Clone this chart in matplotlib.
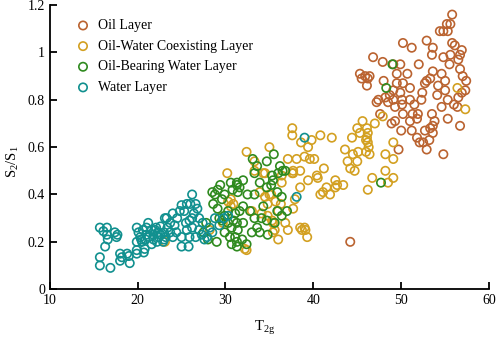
import matplotlib
matplotlib.use("Agg")
import matplotlib.pyplot as plt
from matplotlib.ticker import FuncFormatter

plt.rcParams["font.family"] = ["Liberation Serif", "DejaVu Serif"]
plt.rcParams["mathtext.default"] = "regular"

# ---- data ----
oil_x = [55.8, 55.2, 55.6, 54.8, 54.4, 55.3, 50.2, 51.2, 52.9, 53.6, 53.5, 54.8, 55.6, 55.8,
         56.1, 56.9, 56.7, 56.5, 56.7, 46.8, 47.9, 49.1, 49.9, 49.5, 50.7, 53.6, 54.6, 55.0,
         52.9, 52.7, 53.3, 57.4, 49.5, 50.2, 46.4, 45.3, 45.9, 45.5, 46.2, 46.1, 49.1, 49.9,
         48.7, 52.4, 54.1, 55.0, 57.3, 55.3, 56.5, 56.9, 47.4, 48.2, 49.1, 50.1, 51.0, 54.6,
         56.4, 47.2, 48.5, 49.3, 50.1, 49.3, 50.2, 51.0, 51.3, 51.9, 51.8, 53.5, 53.8, 53.6,
         53.3, 50.0, 51.2, 52.7, 53.6, 56.7, 51.8, 52.1, 52.5, 52.9, 49.7, 54.8, 44.2, 47.6,
         48.9, 51.5, 52.3, 55.5, 57.0, 54.2, 51.0, 52.0, 48.0, 53.2, 55.3, 56.0]
oil_y = [1.16, 1.12, 1.12, 1.09, 1.09, 1.09, 1.04, 1.02, 1.05, 1.02, 0.99, 0.98, 0.99, 1.04,
         1.03, 1.01, 0.99, 0.97, 0.93, 0.98, 0.96, 0.95, 0.95, 0.91, 0.91, 0.92, 0.91, 0.88,
         0.88, 0.87, 0.89, 0.88, 0.87, 0.87, 0.90, 0.91, 0.90, 0.89, 0.89, 0.86, 0.84, 0.83,
         0.82, 0.83, 0.82, 0.84, 0.84, 0.80, 0.81, 0.83, 0.80, 0.81, 0.80, 0.80, 0.80, 0.77,
         0.77, 0.79, 0.79, 0.77, 0.78, 0.71, 0.74, 0.71, 0.74, 0.74, 0.72, 0.74, 0.71, 0.69,
         0.68, 0.67, 0.67, 0.67, 0.66, 0.69, 0.64, 0.62, 0.62, 0.59, 0.59, 0.57, 0.20, 0.74,
         0.70, 0.78, 0.80, 0.95, 0.90, 0.86, 0.85, 0.95, 0.88, 0.63, 0.72, 0.78]

coex_x = [37.6, 37.6, 38.6, 39.8, 40.8, 42.1, 44.4, 45.0, 45.6, 45.3, 46.1, 46.2, 46.1, 46.2,
          46.3, 46.0, 46.4, 46.0, 47.0, 47.9, 43.6, 44.5, 45.1, 43.9, 45.0, 44.2, 44.7, 39.4,
          39.6, 40.1, 39.0, 37.1, 38.1, 37.7, 38.5, 40.4, 41.2, 40.5, 39.4, 42.5, 42.7, 43.4,
          42.5, 41.5, 41.1, 41.9, 40.8, 38.5, 37.9, 37.7, 48.2, 48.5, 49.1, 46.2, 46.7, 48.2,
          49.1, 49.1, 56.4, 57.3, 34.3, 36.4, 37.7, 36.8, 37.1, 35.6, 36.0, 38.7, 39.1, 39.3,
          35.4, 34.5, 33.3, 33.3, 32.4, 35.0, 30.2, 37.6, 30.3, 30.6, 30.9, 30.6, 33.9, 34.5,
          35.2, 35.7, 36.3, 36.4, 34.1, 34.8, 35.4, 32.2, 29.7, 23.1, 28.2, 32.4, 35.0, 34.8,
          35.3, 33.0, 36.0, 38.5, 39.0]
coex_y = [0.68, 0.65, 0.62, 0.63, 0.65, 0.64, 0.64, 0.68, 0.71, 0.66, 0.68, 0.66, 0.64, 0.62,
          0.60, 0.63, 0.57, 0.58, 0.70, 0.73, 0.59, 0.57, 0.58, 0.54, 0.54, 0.51, 0.50, 0.60,
          0.55, 0.55, 0.56, 0.55, 0.55, 0.50, 0.50, 0.48, 0.51, 0.47, 0.46, 0.46, 0.44, 0.44,
          0.43, 0.43, 0.41, 0.40, 0.40, 0.43, 0.38, 0.34, 0.50, 0.45, 0.47, 0.42, 0.47, 0.57,
          0.55, 0.62, 0.85, 0.76, 0.49, 0.48, 0.49, 0.28, 0.25, 0.25, 0.21, 0.25, 0.25, 0.22,
          0.24, 0.49, 0.54, 0.50, 0.58, 0.60, 0.49, 0.49, 0.37, 0.38, 0.36, 0.35, 0.41, 0.39,
          0.40, 0.37, 0.36, 0.45, 0.32, 0.31, 0.28, 0.17, 0.28, 0.20, 0.25, 0.165, 0.40, 0.36,
          0.29, 0.33, 0.33, 0.26, 0.26]

obw_x = [35.5, 33.1, 34.7, 33.6, 36.2, 36.5, 36.0, 33.3, 35.3, 32.0, 31.3, 31.6, 30.8, 31.4,
         29.9, 29.1, 28.5, 29.6, 28.6, 29.1, 32.0, 31.6, 31.1, 29.9, 29.3, 29.6, 30.3, 31.3,
         32.0, 30.7, 31.4, 29.9, 31.1, 31.9, 30.7, 31.3, 33.3, 34.1, 33.6, 34.7, 35.6, 34.8,
         35.9, 36.4, 34.3, 33.0, 33.9, 34.7, 35.2, 35.9, 36.4, 33.9, 33.3, 28.0, 29.0, 28.8,
         29.4, 30.6, 31.3, 30.3, 30.9, 30.5, 31.3, 32.4, 47.7, 36.8, 37.0, 49.0, 48.3, 35.4,
         32.5, 32.8, 27.5, 27.8]
obw_y = [0.57, 0.55, 0.54, 0.52, 0.52, 0.50, 0.49, 0.49, 0.48, 0.46, 0.45, 0.43, 0.42, 0.41,
         0.40, 0.42, 0.41, 0.38, 0.36, 0.34, 0.35, 0.33, 0.32, 0.31, 0.30, 0.29, 0.28, 0.28,
         0.28, 0.26, 0.25, 0.24, 0.22, 0.21, 0.19, 0.18, 0.30, 0.30, 0.26, 0.29, 0.28, 0.23,
         0.33, 0.31, 0.35, 0.24, 0.24, 0.43, 0.44, 0.41, 0.39, 0.45, 0.40, 0.21, 0.20, 0.40,
         0.44, 0.45, 0.44, 0.33, 0.29, 0.22, 0.20, 0.19, 0.45, 0.50, 0.33, 0.95, 0.85, 0.46,
         0.40, 0.33, 0.24, 0.28]

water_x = [15.7, 16.5, 17.4, 17.7, 16.5, 16.6, 16.3, 15.7, 15.7, 16.9, 18.0, 18.2, 18.0, 18.8,
           19.0, 19.1, 19.9, 19.9, 20.7, 20.8, 19.9, 20.1, 20.3, 20.5, 19.9, 21.0, 21.0, 21.6,
           21.8, 22.1, 22.3, 22.6, 23.0, 23.4, 23.7, 23.2, 21.6, 22.2, 22.9, 23.1, 23.3, 24.5,
           25.0, 25.3, 26.2, 25.9, 26.2, 25.5, 25.0, 25.8, 25.9, 25.0, 25.6, 26.2, 23.7, 24.2,
           20.4, 20.9, 21.3, 21.8, 22.4, 22.0, 20.6, 24.8, 25.6, 26.0, 26.6, 26.8, 26.4, 27.0,
           27.4, 27.0, 27.3, 27.6, 28.2, 26.6, 27.9, 28.5, 24.4, 24.0, 24.0, 28.8, 29.3, 29.8,
           30.3, 39.0, 38.1, 16.1, 17.6, 23.0, 22.6, 21.2]
water_y = [0.26, 0.26, 0.24, 0.23, 0.23, 0.21, 0.18, 0.135, 0.10, 0.09, 0.15, 0.135, 0.12, 0.15,
           0.14, 0.11, 0.165, 0.15, 0.155, 0.17, 0.26, 0.24, 0.22, 0.20, 0.20, 0.26, 0.23, 0.25,
           0.23, 0.26, 0.24, 0.23, 0.24, 0.26, 0.24, 0.22, 0.19, 0.20, 0.20, 0.30, 0.30, 0.30,
           0.355, 0.33, 0.40, 0.29, 0.30, 0.28, 0.18, 0.18, 0.22, 0.22, 0.25, 0.26, 0.28, 0.27,
           0.21, 0.21, 0.22, 0.21, 0.22, 0.25, 0.25, 0.33, 0.36, 0.36, 0.36, 0.34, 0.32, 0.30,
           0.28, 0.25, 0.23, 0.21, 0.26, 0.22, 0.22, 0.24, 0.24, 0.22, 0.32, 0.30, 0.27, 0.30,
           0.31, 0.64, 0.39, 0.245, 0.22, 0.21, 0.265, 0.28]

series = [
    ("Oil Layer", oil_x, oil_y, "#BA6330"),
    ("Oil-Water Coexisting Layer", coex_x, coex_y, "#D3A021"),
    ("Oil-Bearing Water Layer", obw_x, obw_y, "#2F8A1F"),
    ("Water Layer", water_x, water_y, "#11908F"),
]

x_ticks = [10, 20, 30, 40, 50, 60]
y_ticks = [0, 0.2, 0.4, 0.6, 0.8, 1.0, 1.2]

# ---- plot ----
fig = plt.figure(figsize=(4.98, 3.41), dpi=100)
ax = fig.add_axes([0.100, 0.152, 0.882, 0.833])

for label, xs, ys, color in series:
    ax.scatter(xs, ys, s=36, facecolors="none", edgecolors=color,
               linewidths=1.2, label=label)

ax.set_xlim(10, 60)
ax.set_ylim(0, 1.2)
ax.set_xticks(x_ticks)
ax.set_yticks(y_ticks)
ax.yaxis.set_major_formatter(FuncFormatter(lambda v, p: f"{v:g}"))

for side in ["top", "right"]:
    ax.spines[side].set_visible(False)
for side in ["left", "bottom"]:
    ax.spines[side].set_linewidth(1.3)
ax.tick_params(direction="in", length=5, width=1.3, labelsize=10)

ax.set_xlabel("T$_{2g}$", fontsize=10.5)
ax.set_ylabel("S$_2$/S$_1$", fontsize=10.5)
ax.xaxis.set_label_coords(0.49, -0.105)
ax.yaxis.set_label_coords(-0.065, 0.45)

ax.legend(loc="upper left", bbox_to_anchor=(0.025, 0.98), frameon=False,
          fontsize=10, handletextpad=0.05, labelspacing=0.55, borderaxespad=0.2)

fig.savefig("out.png", dpi=100)
